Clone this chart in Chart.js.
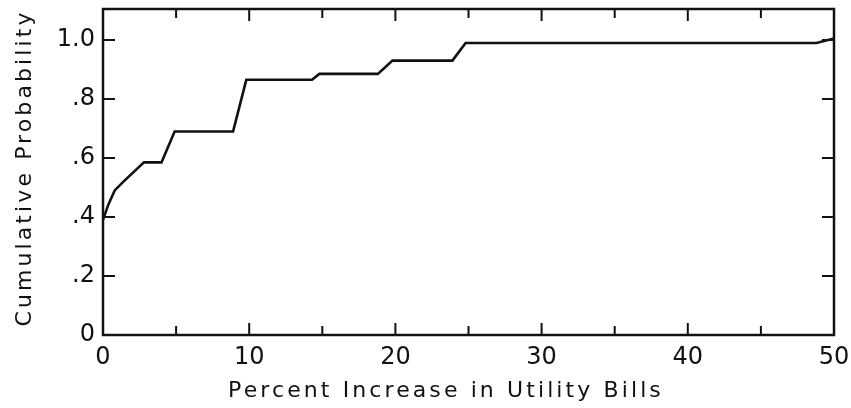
<!DOCTYPE html>
<html>
<head>
<meta charset="utf-8">
<script src="https://cdn.jsdelivr.net/npm/chart.js@4"></script>
<style>
  html, body { margin: 0; padding: 0; background: #fff; }
  #wrap { width: 851px; height: 408px; }
</style>
</head>
<body>
<div id="wrap"><canvas id="cdf" width="851" height="408"></canvas></div>
<script>
// percent increase (x) and cumulative probability (y)
var pctIncrease = [0, 0.35, 0.8, 1.4, 2.8, 4.0, 4.9, 8.9, 9.8, 14.3, 14.8, 18.8, 19.8, 23.9, 24.8, 48.8, 50];
var cumProb     = [0.39, 0.44, 0.49, 0.52, 0.585, 0.585, 0.69, 0.69, 0.865, 0.865, 0.885, 0.885, 0.93, 0.93, 0.99, 0.99, 1.005];

var xTicks = [0, 5, 10, 15, 20, 25, 30, 35, 40, 45, 50];
var xLabels = ['0', '', '10', '', '20', '', '30', '', '40', '', '50'];
var yTicks = [0, 0.2, 0.4, 0.6, 0.8, 1.0];
var yLabels = ['0', '.2', '.4', '.6', '.8', '1.0'];

var xTitle = 'Percent Increase in Utility Bills';
var yTitle = 'Cumulative Probability';

var ink = '#111';
var font = '"DejaVu Sans", sans-serif';

// frame, inward tick marks and axis titles
var framePlugin = {
    id: 'frame',
    afterDraw: function (chart) {
        var ctx = chart.ctx, a = chart.chartArea;
        var xs = chart.scales.x, ys = chart.scales.y;
        ctx.save();
        ctx.strokeStyle = ink;
        ctx.lineWidth = 2.5;
        ctx.strokeRect(a.left, a.top, a.right - a.left, a.bottom - a.top);

        ctx.lineWidth = 2;
        ctx.beginPath();
        xTicks.forEach(function (v, i) {
            var px = xs.getPixelForValue(v);
            var len = xLabels[i] ? 12 : 9;
            ctx.moveTo(px, a.bottom); ctx.lineTo(px, a.bottom - len);
            ctx.moveTo(px, a.top); ctx.lineTo(px, a.top + len);
        });
        yTicks.forEach(function (v) {
            var py = ys.getPixelForValue(v);
            ctx.moveTo(a.left, py); ctx.lineTo(a.left + 12, py);
            ctx.moveTo(a.right, py); ctx.lineTo(a.right - 12, py);
        });
        ctx.stroke();

        ctx.fillStyle = ink;
        ctx.font = '22px ' + font;
        ctx.letterSpacing = '3.1px';
        ctx.textAlign = 'center';
        ctx.textBaseline = 'middle';
        ctx.fillText(xTitle, 446, 391);

        ctx.translate(25, 168);
        ctx.rotate(-Math.PI / 2);
        ctx.fillText(yTitle, 0, 0);
        ctx.restore();
    }
};

var ctx = document.getElementById('cdf').getContext('2d');
new Chart(ctx, {
    type: 'line',
    data: {
        datasets: [{
            data: pctIncrease.map(function (x, i) { return { x: x, y: cumProb[i] }; }),
            borderColor: ink,
            borderWidth: 2.6,
            pointRadius: 0,
            tension: 0,
            fill: false
        }]
    },
    options: {
        responsive: false,
        animation: false,
        layout: { padding: { top: 9, right: 17, left: 0, bottom: 0 } },
        plugins: { legend: { display: false }, tooltip: { enabled: false } },
        scales: {
            x: {
                type: 'linear',
                min: 0,
                max: 50,
                afterFit: function (s) {
                    s.height = 73;
                    s.paddingLeft = 0;
                    s.paddingRight = 0;
                },
                afterBuildTicks: function (s) {
                    s.ticks = xTicks.map(function (v) { return { value: v }; });
                },
                grid: { display: false, drawTicks: false },
                border: { display: false },
                ticks: {
                    padding: 8,
                    color: ink,
                    font: { family: font, size: 24 },
                    maxRotation: 0,
                    autoSkip: false,
                    callback: function (v, i) { return xLabels[i]; }
                }
            },
            y: {
                min: 0,
                max: 1.105,
                afterFit: function (s) {
                    s.width = 103;
                    s.paddingTop = 0;
                    s.paddingBottom = 0;
                },
                afterBuildTicks: function (s) {
                    s.ticks = yTicks.map(function (v) { return { value: v }; });
                },
                grid: { display: false, drawTicks: false },
                border: { display: false },
                ticks: {
                    padding: 8,
                    color: ink,
                    font: { family: font, size: 24 },
                    autoSkip: false,
                    callback: function (v, i) { return yLabels[i]; }
                }
            }
        }
    },
    plugins: [framePlugin]
});
</script>
</body>
</html>
